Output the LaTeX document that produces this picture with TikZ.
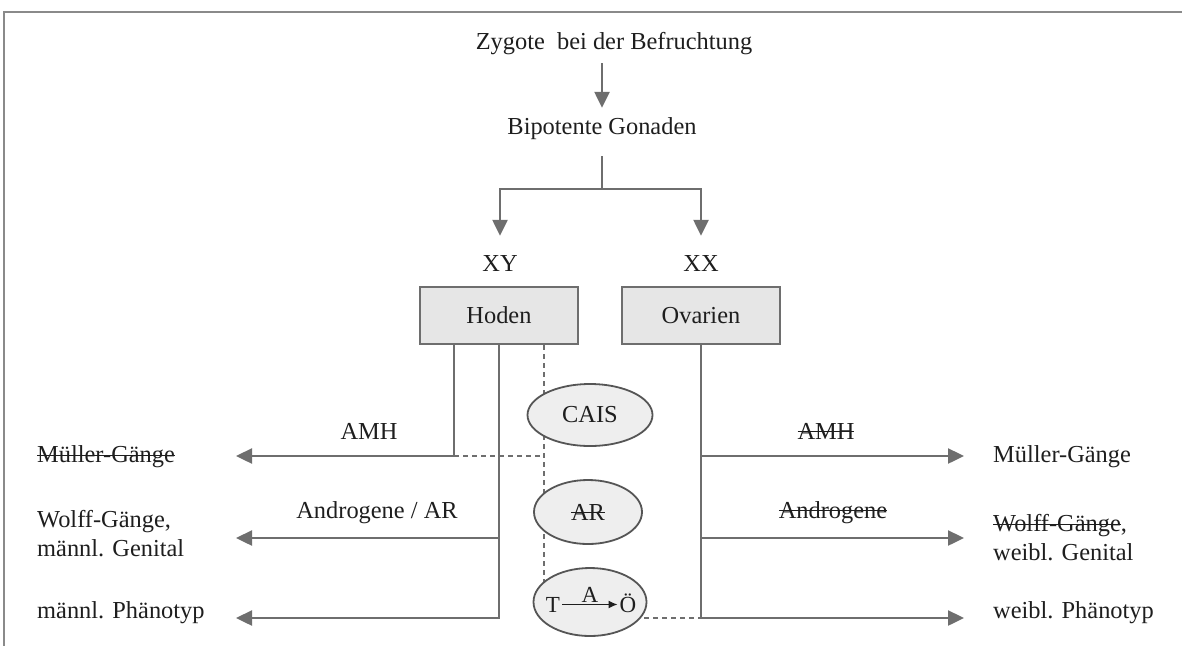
\documentclass[tikz,border=0pt]{standalone}
\usepackage{fontspec}
\setmainfont{Liberation Serif}
\usetikzlibrary{shapes.geometric,arrows.meta,calc,backgrounds}

\newsavebox{\strikebox}
\newcommand{\strike}[1]{\mbox{\sbox{\strikebox}{#1}\rlap{\raisebox{0.27em}{\rule{\wd\strikebox}{1.4pt}}}\usebox{\strikebox}}}

\definecolor{linegray}{HTML}{6E6E6E}
\definecolor{framegray}{HTML}{8A8A8A}
\definecolor{boxgray}{HTML}{E6E6E6}
\definecolor{ellgray}{HTML}{EEEEEE}
\definecolor{ellline}{HTML}{555555}
\definecolor{textgray}{HTML}{1E1E1E}

\tikzset{
  every node/.style={font=\fontsize{24.4}{29}\selectfont, text=textgray, inner sep=2pt},
  lbl/.style={text height=17pt, text depth=5pt},
  conn/.style={draw=linegray, line width=2.4pt},
  arr/.style={conn, -{Triangle[length=16pt,width=15pt]}},
  dashline/.style={draw=linegray, line width=2pt, dash pattern=on 5pt off 4pt},
  gonad/.style={draw=linegray, line width=2pt, fill=boxgray, minimum width=158pt, minimum height=57pt},
  syndrom/.style={ellipse, draw=ellline, line width=1.8pt, fill=ellgray, inner sep=0pt},
  small/.style={font=\fontsize{23}{27}\selectfont},
}

\begin{document}
\begin{tikzpicture}[x=1pt,y=-1pt]
\useasboundingbox (0,0) rectangle (1182,646);

% frame
\draw[draw=framegray, line width=2.5pt] (1182,12) -- (4,12) -- (4,646);

% top
\node[lbl] (zyg) at (614,43) {Zygote\ \ bei der Befruchtung};
\node[lbl] (bip) at (602,128) {Bipotente Gonaden};
\draw[arr, shorten <=7pt, shorten >=7pt] (zyg.south -| bip.north) -- (bip.north);

\node[lbl] (xy) at (500,265) {XY};
\node[lbl] (xx) at (701,265) {XX};
\coordinate (fork) at ($(bip.south)+(0,48)$);
\draw[conn, shorten <=15pt] (bip.south) -- (fork);
\draw[arr, shorten >=16pt] (fork) -| (xy.north);
\draw[arr, shorten >=16pt] (fork) -| (xx.north);

% gonads
\node[gonad] (hoden) at (499,315.5) {Hoden};
\node[gonad] (ovarien) at (701,315.5) {Ovarien};

% syndrome
\node[syndrom, minimum width=125pt, minimum height=62pt] (cais) at (590,415) {CAIS};
\node[syndrom, minimum width=108pt, minimum height=64pt] (ar) at (588,512) {\strike{AR}};
\node[syndrom, minimum width=113pt, minimum height=68pt] (aro) at (590,602) {};
\node[small, anchor=base] (tt) at (553,612) {T};
\node[small, anchor=base] (oe) at (628,612) {Ö};
\draw[textgray, line width=1.2pt, -{Latex[length=9pt,width=8pt]}] (tt.east) -- node[small, above, inner sep=1pt] (aa) {A} (oe.west |- tt.east);

% male side
\coordinate (hA) at ($(hoden.south)+(-45,0)$);
\coordinate (hB) at ($(hoden.south)+(45,0)$);
\coordinate (mueTipL) at (236,456);
\coordinate (wolTipL) at (236,538);
\coordinate (phaTipL) at (236,618);
\draw[arr] (hA) |- (mueTipL);
\draw[arr] (hoden.south) |- (phaTipL);
\draw[arr] (hoden.south |- wolTipL) -- (wolTipL);

\node[lbl] (amhL) at (369,433) {AMH};
\node[lbl] (androL) at (377,512) {Androgene / AR};

\node[anchor=west] (muelL) at (35,457) {\strike{Müller-Gänge}};
\node[anchor=west, align=left] (wolffL) at (35,534) {Wolff-Gänge,\\männl. Genital};
\node[anchor=west] (phaenL) at (35,613) {männl. Phänotyp};

% female side
\coordinate (mueTipR) at (964,456);
\coordinate (wolTipR) at (964,538);
\coordinate (phaTipR) at (964,618);
\draw[arr] (ovarien.south) |- (phaTipR);
\draw[arr] (ovarien.south |- mueTipR) -- (mueTipR);
\draw[arr] (ovarien.south |- wolTipR) -- (wolTipR);

\node[lbl] (amhR) at (826,433) {\strike{AMH}};
\node[lbl] (androR) at (833,512) {\strike{Androgene}};

\node[anchor=west] (muelR) at (991,457) {Müller-Gänge};
\node[anchor=west, align=left] (wolffR) at (991,538) {\strike{Wolff-Gänge},\\weibl. Genital};
\node[anchor=west] (phaenR) at (991,613) {weibl. Phänotyp};

% dashed
\begin{scope}[on background layer]
\draw[dashline] (hA |- mueTipL) -- (hB |- mueTipL);
\draw[dashline] (hB) -- (hB |- aro.center);
\draw[dashline] ($(aro.center)+(0,16)$) -- (ovarien.south |- phaTipR);
\end{scope}

\end{tikzpicture}
\end{document}
